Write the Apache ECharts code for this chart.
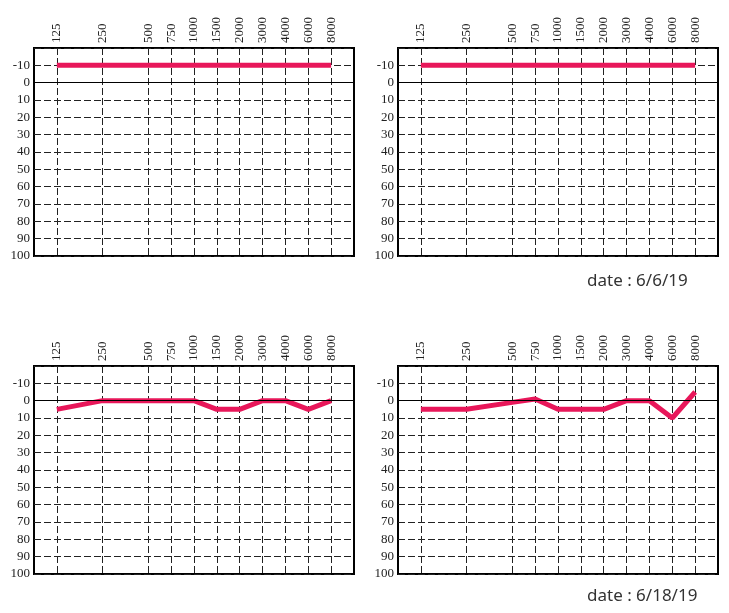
<!DOCTYPE html>
<html>
<head>
<meta charset="utf-8">
<script src="https://cdn.jsdelivr.net/npm/echarts@6/dist/echarts.min.js"></script>
<style>
  html, body { margin: 0; padding: 0; background: #fff; }
  #chart { width: 729px; height: 613px; }
</style>
</head>
<body>
<div id="chart"></div>
<script>
// frequency slots along the top axis (blank = empty half-octave slot)
var ticks = ['', '125', '', '250', '', '500', '750', '1000', '1500', '2000', '3000', '4000', '6000', '8000', ''];
var freqs = ['125', '250', '500', '750', '1000', '1500', '2000', '3000', '4000', '6000', '8000'];
var yTicks = [-20, -10, 0, 10, 20, 30, 40, 50, 60, 70, 80, 90, 100];

// hearing levels (dB) per frequency, one array per panel
var topLeft = [-10, -10, -10, -10, -10, -10, -10, -10, -10, -10, -10];
var topRight = [-10, -10, -10, -10, -10, -10, -10, -10, -10, -10, -10];
var bottomLeft = [5, 0, 0, 0, 0, 5, 5, 0, 0, 5, 0];
var bottomRight = [5, 5, 1, -1, 5, 5, 5, 0, 0, 10, -5];

var dates = ['date : 6/6/19', 'date : 6/18/19'];

var panels = [topLeft, topRight, bottomLeft, bottomRight];
var grids = [
  { left: 34, top: 48, width: 320, height: 208 },
  { left: 398, top: 48, width: 320, height: 208 },
  { left: 34, top: 366, width: 320, height: 208 },
  { left: 398, top: 366, width: 320, height: 208 }
];

function toSlots(vals) {
  return ticks.map(function (t) {
    var i = freqs.indexOf(t);
    return i >= 0 ? vals[i] : null;
  });
}

function isFreq(idx, val) { return val !== ''; }

var labelFont = { fontFamily: 'Liberation Serif', fontSize: 13, color: '#222' };
var dash = { color: '#222', type: [7, 3], width: 1 };

var myChart = echarts.init(document.getElementById('chart'), null, { renderer: 'canvas' });
var option = {
  backgroundColor: '#fff',
  animation: false,
  grid: grids.map(function (g) {
    return Object.assign({ show: true, borderColor: '#000', borderWidth: 2, backgroundColor: 'transparent' }, g);
  }),
  xAxis: grids.map(function (g, i) {
    return {
      type: 'category',
      gridIndex: i,
      position: 'top',
      data: ticks,
      boundaryGap: false,
      axisLine: { show: false },
      axisTick: { show: false },
      axisLabel: Object.assign({ rotate: 90, margin: 5, interval: isFreq }, labelFont),
      splitLine: { show: true, interval: isFreq, lineStyle: dash }
    };
  }),
  yAxis: grids.map(function (g, i) {
    return {
      type: 'value',
      gridIndex: i,
      inverse: true,
      min: yTicks[0],
      max: yTicks[yTicks.length - 1],
      interval: 10,
      axisLine: { show: false },
      axisTick: { show: false },
      axisLabel: Object.assign({
        margin: 4,
        formatter: function (v) { return v === yTicks[0] ? '' : String(v); }
      }, labelFont),
      splitLine: { show: true, lineStyle: dash }
    };
  }),
  series: panels.map(function (vals, i) {
    return {
      type: 'line',
      xAxisIndex: i,
      yAxisIndex: i,
      data: toSlots(vals),
      connectNulls: true,
      showSymbol: false,
      symbol: 'none',
      lineStyle: { color: '#e8175a', width: 5 },
      markLine: {
        silent: true,
        symbol: 'none',
        label: { show: false },
        lineStyle: { color: '#000', type: 'solid', width: 1 },
        data: [{ yAxis: 0 }]
      },
      z: 3
    };
  }),
  graphic: [
    { type: 'text', left: 587, top: 273, style: { text: dates[0], fontFamily: 'Noto Sans', fontSize: 17, fill: '#333' } },
    { type: 'text', left: 587, top: 588, style: { text: dates[1], fontFamily: 'Noto Sans', fontSize: 17, fill: '#333' } }
  ]
};
myChart.setOption(option);
</script>
</body>
</html>
